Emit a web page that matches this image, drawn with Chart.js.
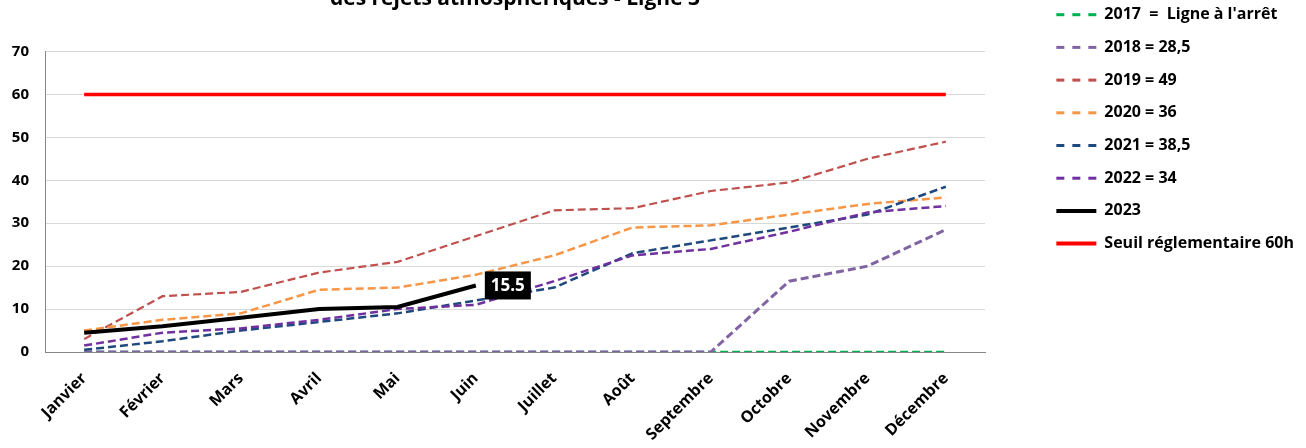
<!DOCTYPE html>
<html lang="fr">
<head>
<meta charset="utf-8">
<title>Rejets atmosphériques - Ligne 3</title>
<script src="https://cdn.jsdelivr.net/npm/chart.js@4.4.1/dist/chart.umd.min.js"></script>
<style>
  html, body { margin: 0; padding: 0; background: #fff; }
  #frame { position: relative; width: 1306px; height: 448px; overflow: hidden; }
  /* the first title line sits above the picture, so the canvas is pulled up a little */
  #box { position: absolute; left: 0; top: -12px; width: 1306px; height: 460px; }
</style>
</head>
<body>
<div id="frame"><div id="box"><canvas id="chart"></canvas></div></div>
<script>
// --- data ---
const months = ['Janvier', 'Février', 'Mars', 'Avril', 'Mai', 'Juin', 'Juillet', 'Août', 'Septembre', 'Octobre', 'Novembre', 'Décembre'];
const y2017 = [0, 0, 0, 0, 0, 0, 0, 0, 0, 0, 0, 0];
const y2018 = [0, 0, 0, 0, 0, 0, 0, 0, 0, 16.5, 20, 28.5];
const y2019 = [3, 13, 14, 18.5, 21, 27, 33, 33.5, 37.5, 39.5, 45, 49];
const y2020 = [5, 7.5, 9, 14.5, 15, 18, 22.5, 29, 29.5, 32, 34.5, 36];
const y2021 = [0.5, 2.5, 5, 7, 9, 12, 15, 23, 26, 29, 32, 38.5];
const y2022 = [1.5, 4.5, 5.5, 7.5, 10, 11, 16.5, 22.5, 24, 28, 32.5, 34];
const y2023 = [4.5, 6, 8, 10, 10.5, 15.5, null, null, null, null, null, null];
const seuil = [60, 60, 60, 60, 60, 60, 60, 60, 60, 60, 60, 60];
const yTicks = { min: 0, max: 70, step: 10 };
const titleText = 'des rejets atmosphériques - Ligne 3';

const FONT = "'Open Sans', sans-serif";
Chart.defaults.font.family = FONT;
Chart.defaults.font.weight = 'bold';
Chart.defaults.color = '#000';

const PLOT_DASH = [8, 4];
const LEGEND_DASH = [8, 8];

// later years are drawn on top, like in the spreadsheet
function series(label, data, color, width, order, dash) {
    return {
        label, data,
        borderColor: color, backgroundColor: color,
        borderWidth: width,
        borderDash: dash ? PLOT_DASH : [],
        pointRadius: 0, pointHoverRadius: 0,
        tension: 0, spanGaps: false,
        order
    };
}

// black value box at the last known 2023 point
const lastValueLabel = {
    id: 'lastValueLabel',
    afterDatasetsDraw(chart) {
        const idx = chart.data.datasets.findIndex(d => d.label === '2023');
        if (idx < 0) return;
        const data = chart.data.datasets[idx].data;
        let i = data.length - 1;
        while (i >= 0 && data[i] == null) i--;
        if (i < 0) return;
        const pt = chart.getDatasetMeta(idx).data[i];
        const txt = String(data[i]);
        const ctx = chart.ctx;
        ctx.save();
        ctx.font = "bold 17px 'Open Sans'";
        const w = ctx.measureText(txt).width + 12, h = 28;
        ctx.fillStyle = '#000';
        ctx.fillRect(pt.x + 9, pt.y - h / 2, w, h);
        ctx.fillStyle = '#fff';
        ctx.textAlign = 'center';
        ctx.textBaseline = 'middle';
        ctx.fillText(txt, pt.x + 9 + w / 2, pt.y + 1);
        ctx.restore();
    }
};

const PLOT_RIGHT = 985;
const PAD_RIGHT = 2;

new Chart(document.getElementById('chart'), {
    type: 'line',
    data: {
        labels: months,
        datasets: [
            // 2017 a bit thinner than 2018 so 2018 fully hides it where both are 0
            series("2017  =  Ligne à l'arrêt", y2017, '#00B050', 2.4, 7, true),
            series('2018 = 28,5', y2018, '#8064A2', 3, 6, true),
            series('2019 = 49', y2019, '#C0504D', 2.2, 5, true),
            series('2020 = 36', y2020, '#F79646', 2.5, 4, true),
            series('2021 = 38,5', y2021, '#1F497D', 2.5, 3, true),
            series('2022 = 34', y2022, '#7030A0', 2.5, 2, true),
            series('2023', y2023, '#000000', 4, 1, false),
            series('Seuil réglementaire 60h', seuil, '#FF0000', 3.5, 0, false)
        ]
    },
    options: {
        responsive: true,
        maintainAspectRatio: false,
        animation: false,
        layout: { padding: { top: 2, right: PAD_RIGHT, bottom: 0, left: 0 } },
        plugins: {
            title: {
                display: true,
                text: titleText,
                fullSize: false,
                color: '#000',
                font: { size: 21, weight: 'bold', lineHeight: 0.88 },
                padding: { top: 0, bottom: 43 }
            },
            legend: {
                position: 'right',
                align: 'start',
                maxWidth: 400,
                labels: {
                    usePointStyle: true,
                    pointStyle: 'line',
                    pointStyleWidth: 40,
                    padding: 16.7,
                    color: '#000',
                    font: { size: 16, weight: 'bold' },
                    sort: (a, b) => a.datasetIndex - b.datasetIndex,
                    // line samples keep the dash of their series
                    generateLabels: chart => Chart.defaults.plugins.legend.labels.generateLabels(chart).map(item => {
                        const ds = chart.data.datasets[item.datasetIndex];
                        const dashed = ds.borderDash && ds.borderDash.length > 0;
                        item.lineDash = dashed ? LEGEND_DASH : [];
                        item.lineWidth = dashed ? 3 : 4;
                        return item;
                    })
                }
            },
            tooltip: { enabled: false }
        },
        scales: {
            x: {
                offset: true,
                grid: { display: false, drawTicks: false },
                border: { display: true, color: '#868686', width: 1 },
                ticks: {
                    autoSkip: false, maxRotation: 45, minRotation: 45,
                    padding: 17, color: '#000',
                    font: { size: 16, weight: 'bold' }
                },
                afterFit: s => { s.height = 96; }
            },
            y: {
                min: yTicks.min, max: yTicks.max,
                grid: { color: '#d9d9d9', drawTicks: false },
                border: { display: true, color: '#868686', width: 1 },
                ticks: { stepSize: yTicks.step, padding: 16, color: '#000', font: { size: 15, weight: 'bold' } },
                afterFit: s => { s.width = 45; }
            },
            // empty axis that only keeps the gap between plot and legend
            gap: {
                type: 'linear',
                position: 'right',
                grid: { display: false, drawTicks: false },
                border: { display: false },
                ticks: { display: false },
                afterFit: s => { s.width = Math.max(0, s.chart.width - PAD_RIGHT - s.chart.legend.width - PLOT_RIGHT); }
            }
        }
    },
    plugins: [lastValueLabel]
});
</script>
</body>
</html>
